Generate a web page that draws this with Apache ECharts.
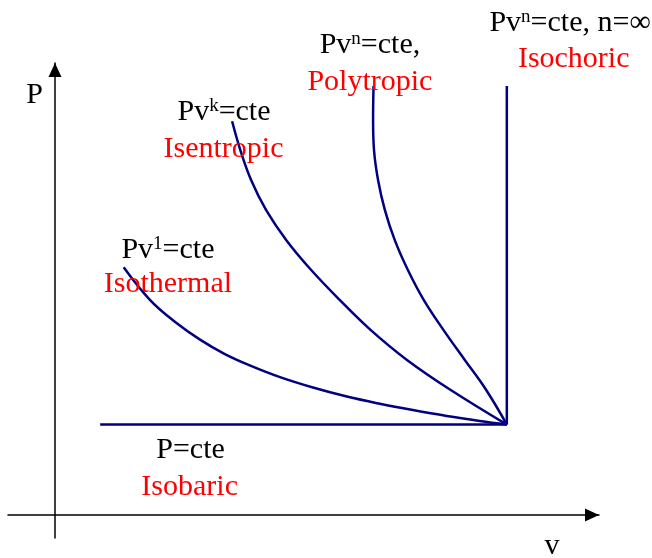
<!DOCTYPE html>
<html><head><meta charset="utf-8">
<script src="https://cdn.jsdelivr.net/npm/echarts@6/dist/echarts.min.js"></script>
<style>html,body{margin:0;padding:0;background:#fff}#c{width:652px;height:558px}</style>
</head><body><div id="c"></div><script>
// Process curves in the P–v plane (v, P)
const isobaric   = [[1.0, 2], [10, 2]];
const isothermal = [[1.52,5.48],[2.10,4.76],[2.66,4.27],[3.21,3.88],[3.76,3.56],[4.31,3.31],[4.98,3.05],[5.71,2.82],[6.46,2.62],[7.19,2.46],[7.92,2.32],[8.67,2.19],[9.40,2.08],[10,2]];
const isentropic = [[3.92,8.71],[4.10,8.08],[4.34,7.41],[4.67,6.75],[5.12,6.08],[5.67,5.42],[6.30,4.76],[6.99,4.09],[7.79,3.43],[8.75,2.77],[10,2]];
const polytropic = [[7.05,9.49],[7.04,8.74],[7.06,8.08],[7.15,7.41],[7.30,6.75],[7.52,6.08],[7.81,5.42],[8.16,4.76],[8.60,4.09],[9.07,3.43],[9.54,2.77],[10,2]];
const isochoric  = [[10, 2], [10, 9.49]];

// Texts
const processNames = ['Isobaric', 'Isothermal', 'Isentropic', 'Polytropic', 'Isochoric'];
const processLaws  = ['P=cte', 'Pv^1=cte', 'Pv^k=cte', 'Pv^n=cte,', 'Pv^n=cte, n=∞'];
const axisNames    = ['v', 'P'];

// Annotation anchors (v, P) for label centres
const lawAnchors  = [[3.00,1.44],[2.50,5.87],[3.74,8.92],[6.97,10.40],[11.40,10.89]];
const nameAnchors = [[2.98,0.62],[2.50,5.11],[3.73,8.10],[6.97,9.58],[11.48,10.09]];

const FONT = '"Liberation Serif", "Times New Roman", serif';
function toRich(s) {
  const m = s.match(/^(.*?)\^(\S)(.*)$/);
  if (!m) return '{t|' + s + '}';
  return '{t|' + m[1] + '}{s|' + m[2] + '}{t|' + m[3] + '}';
}
const curveStyle = { color: '#000080', width: 2.5 };
const lineSeries = (data) => ({
  type: 'line', data: data, smooth: 0.4, showSymbol: false, symbol: 'none',
  lineStyle: curveStyle, itemStyle: { color: '#000080' }, silent: true, z: 3
});
const axisLineCommon = {
  onZero: true, symbol: ['none', 'triangle'], symbolSize: [13, 14], symbolOffset: [0, -7],
  lineStyle: { color: '#000', width: 1.5 }
};
const black = { fontFamily: FONT, color: '#000', textBorderWidth: 0, opacity: 1 };

const chart = echarts.init(document.getElementById('c'), null, { renderer: 'canvas' });
chart.setOption({
  backgroundColor: '#fff',
  animation: false,
  grid: { left: 8, right: 53, top: 63, bottom: 20, containLabel: false, outerBoundsMode: 'none' },
  xAxis: {
    type: 'value', min: -1.04, max: 12.04,
    splitLine: { show: false }, axisTick: { show: false }, axisLabel: { show: false },
    axisLine: axisLineCommon,
    name: axisNames[0], nameLocation: 'end', nameGap: -47,
    nameTextStyle: Object.assign({ fontSize: 30, align: 'center', verticalAlign: 'top', padding: [16, 0, 0, 0] }, black)
  },
  yAxis: {
    type: 'value', min: -0.51, max: 10.0,
    splitLine: { show: false }, axisTick: { show: false }, axisLabel: { show: false },
    axisLine: axisLineCommon,
    name: axisNames[1], nameLocation: 'end', nameGap: -32,
    nameTextStyle: Object.assign({ fontSize: 30, align: 'right', verticalAlign: 'middle', padding: [0, 12, 0, 0] }, black)
  },
  series: [
    lineSeries(isobaric),
    lineSeries(isothermal),
    lineSeries(isentropic),
    lineSeries(polytropic),
    lineSeries(isochoric),
    {
      type: 'scatter', clip: false, symbolSize: 1, itemStyle: { color: 'rgba(0,0,0,0)' }, silent: true, z: 5,
      data: lawAnchors.map((p, i) => ({ value: p, label: { formatter: toRich(processLaws[i]) } })),
      label: {
        show: true, position: 'inside', align: 'center', verticalAlign: 'middle', textBorderWidth: 0, opacity: 1,
        rich: {
          t: Object.assign({ fontSize: 30, lineHeight: 30 }, black),
          s: Object.assign({ fontSize: 19, lineHeight: 14, verticalAlign: 'top' }, black)
        }
      }
    },
    {
      type: 'scatter', clip: false, symbolSize: 1, itemStyle: { color: 'rgba(0,0,0,0)' }, silent: true, z: 5,
      data: nameAnchors.map((p, i) => ({ value: p, label: { formatter: processNames[i] } })),
      label: {
        show: true, position: 'inside', align: 'center', verticalAlign: 'middle', opacity: 1,
        fontFamily: FONT, fontSize: 30, lineHeight: 30, color: '#ff0000', textBorderWidth: 0
      }
    }
  ]
});
</script></body></html>
